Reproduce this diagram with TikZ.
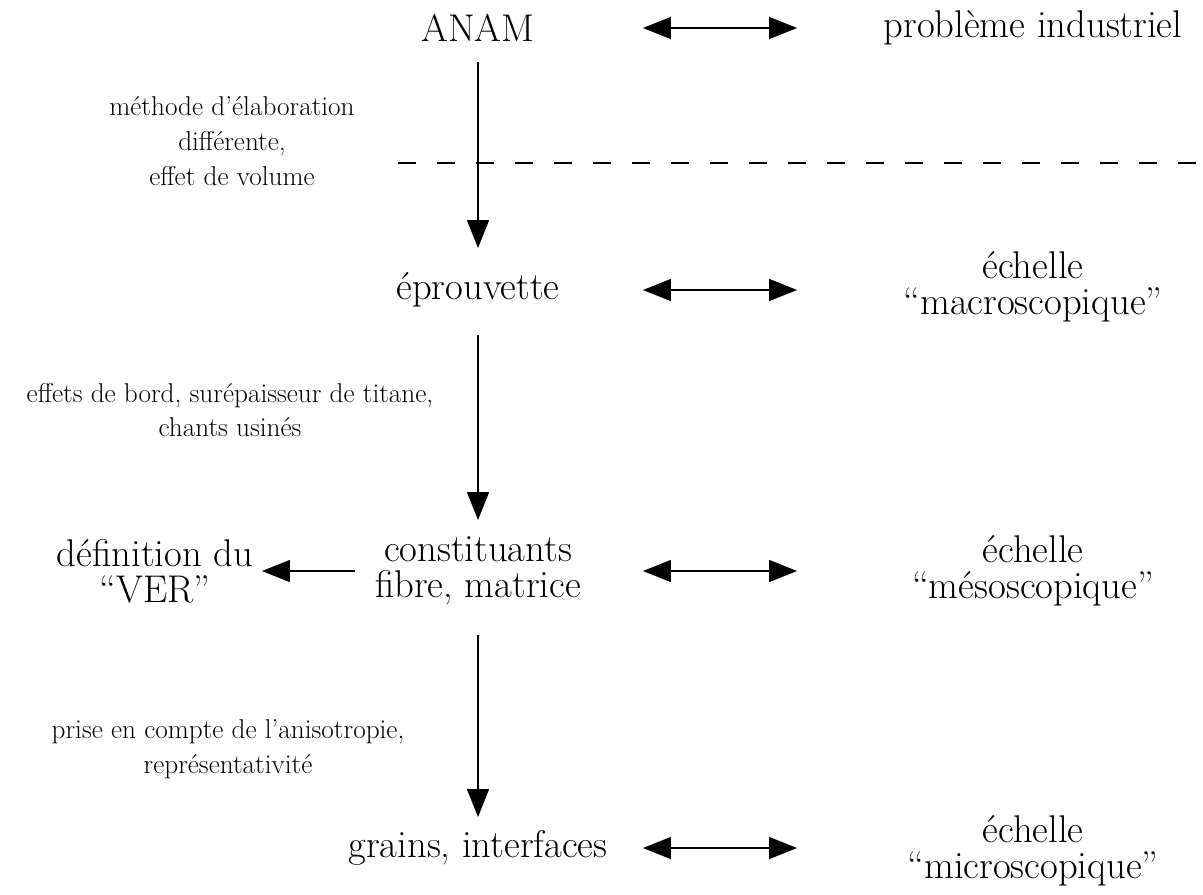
\documentclass[tikz,border=0pt]{standalone}
\usetikzlibrary{arrows.meta}
\begin{document}
\begin{tikzpicture}[x=0.02cm, y=-0.02cm, line join=round, >={Triangle[width=0.44cm,length=0.56cm]}]
	\tikzset{lvl/.style={align=center,inner sep=0pt,font=\fontsize{22}{20.5}\selectfont},
		note/.style={align=center,inner sep=0pt,font=\fontsize{15.5}{19.8}\selectfont}}
	\useasboundingbox (0,0) rectangle (1203,894);
	% niveaux d'observation
	\path(478,28)node[lvl](anam){ANAM}
		(478,290)node[lvl](epr){éprouvette}
		(478,571)node[lvl](const){constituants\\fibre, matrice}
		(478,848)node[lvl](grains){grains, interfaces}
		(155,571)node[lvl](ver){définition du\\``VER''};
	% echelles
	\path(1033,28)node[lvl](indus){problème industriel}
		(1033,287)node[lvl](macro){échelle\\``macroscopique''}
		(1033,571)node[lvl](meso){échelle\\``mésoscopique''}
		(1033,851)node[lvl](micro){échelle\\``microscopique''};
	% commentaires
	\path(232,141)node[note](n1){méthode d’élaboration\\différente,\\effet de volume}
		(230,410)node[note](n2){effets de bord, surépaisseur de titane,\\chants usinés}
		(228,749)node[note](n3){prise en compte de l’anisotropie,\\représentativité};
	\draw[line width=1.6pt,dash pattern=on 0.36cm off 0.42cm](398,163)--(1203,163);
	\foreach \x/\y/\s/\e in {
		anam/epr/0.68/0.84,
		epr/const/0.9/1.02,
		const/grains/1.28/0.62}
	\draw[->,line width=0.85pt,shorten <=\s cm,shorten >=\e cm](\x.center)--(\y.center);
	\foreach \x/\y in {
		anam/indus,
		epr/macro,
		const/meso,
		grains/micro}
	\draw[<->,line width=0.85pt,shorten <=3.3cm,shorten >=4.72cm](\x.center)--(\x.center-|\y.center);
	\draw[->,line width=0.85pt,shorten <=2.46cm,shorten >=2.14cm](const.center)--(const.center-|ver.center);
\end{tikzpicture}
\end{document}
